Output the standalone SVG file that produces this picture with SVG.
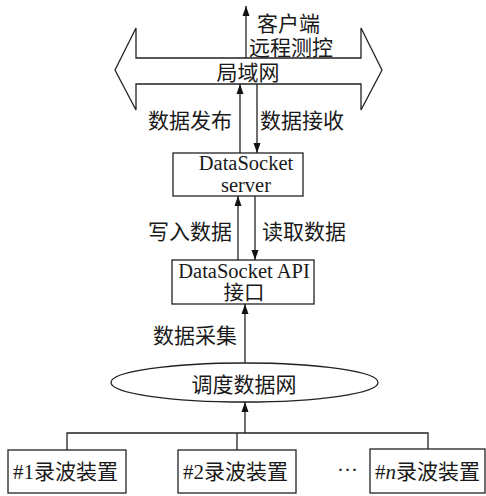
<svg xmlns="http://www.w3.org/2000/svg" width="486" height="496" viewBox="0 0 486 496">
<defs>
<style>
.s{fill:#fff;stroke:#222;stroke-width:1.3}
.c{fill:none;stroke:#222;stroke-width:1.3}
text{font-family:"Liberation Serif","Noto Sans CJK SC",serif;font-size:21px;fill:#1a1a1a}
.m{text-anchor:middle}
.t{font-size:20.5px}
</style>
<marker id="a" viewBox="0 0 10 10" refX="10" refY="5" markerWidth="10" markerHeight="10" markerUnits="userSpaceOnUse" orient="auto">
<path d="M0,1.5 L10,5 L0,8.5 Z" fill="#111"/>
</marker>
</defs>
<rect width="486" height="496" fill="#fff"/>
<g id="lan">
<path class="s" d="M115,70 L136,28 L136,58 L361,58 L361,28 L382,70 L361,110 L361,84 L136,84 L136,110 Z"/>
<text class="m" x="248" y="80">局域网</text>
</g>
<g id="server">
<rect class="s" x="173" y="153" width="130" height="43"/>
<text class="m t" x="246" y="170">DataSocket</text>
<text class="m t" x="246" y="192">server</text>
</g>
<g id="api">
<rect class="s" x="172" y="260" width="142" height="44"/>
<text class="m t" x="244" y="278">DataSocket API</text>
<text class="m t" x="244" y="300">接口</text>
</g>
<g id="dispatch">
<ellipse class="s" cx="244.5" cy="382.5" rx="133.5" ry="19.5"/>
<text class="m" x="244" y="392">调度数据网</text>
</g>
<g id="dev1">
<rect class="s" x="8" y="450" width="118" height="43"/>
<text x="13" y="479">#1录波装置</text>
</g>
<g id="dev2">
<rect class="s" x="178" y="450" width="118" height="43"/>
<text x="183" y="479">#2录波装置</text>
</g>
<g id="devn">
<rect class="s" x="370" y="449" width="115" height="44"/>
<text x="375" y="479">#<tspan font-style="italic">n</tspan>录波装置</text>
</g>
<g id="connectors">
<line class="c" x1="246" y1="58" x2="246" y2="6" marker-end="url(#a)"/>
<line class="c" x1="240" y1="153" x2="240" y2="84" marker-end="url(#a)"/>
<line class="c" x1="257" y1="84" x2="257" y2="153" marker-end="url(#a)"/>
<line class="c" x1="238" y1="260" x2="238" y2="196" marker-end="url(#a)"/>
<line class="c" x1="255" y1="196" x2="255" y2="260" marker-end="url(#a)"/>
<line class="c" x1="245" y1="363" x2="245" y2="304" marker-end="url(#a)"/>
<line class="c" x1="245" y1="433" x2="245" y2="402" marker-end="url(#a)"/>
<polyline class="c" points="67,450 67,433 428,433 428,449"/>
<line class="c" x1="237" y1="433" x2="237" y2="450"/>
</g>
<g id="labels">
<text x="257" y="31">客户端</text>
<text x="249" y="55">远程测控</text>
<text x="148" y="128">数据发布</text>
<text x="260" y="128">数据接收</text>
<text x="148" y="239">写入数据</text>
<text x="262" y="239">读取数据</text>
<text x="153" y="343">数据采集</text>
<text x="337" y="477">···</text>
</g>
</svg>
